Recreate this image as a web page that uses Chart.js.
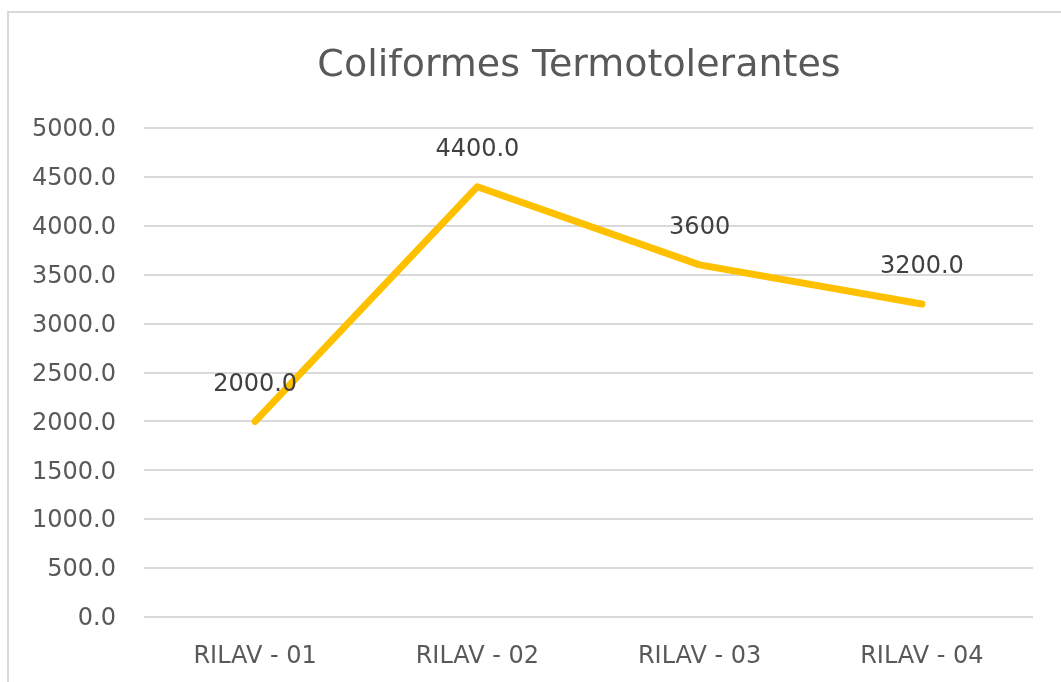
<!DOCTYPE html>
<html>
<head>
<meta charset="utf-8">
<script src="https://cdn.jsdelivr.net/npm/chart.js@4"></script>
<style>
  html, body { margin: 0; padding: 0; background: #fff; overflow: hidden; }
  #wrap { position: relative; width: 1061px; height: 682px; }
  #frame { position: absolute; left: 7px; top: 11px; width: 1100px; height: 700px; border: 2px solid #d9d9d9; box-sizing: border-box; }
  canvas { position: absolute; left: 0; top: 0; }
</style>
</head>
<body>
<div id="wrap">
  <div id="frame"></div>
  <canvas id="c" width="1061" height="682"></canvas>
</div>
<script>
const chartTitle = "Coliformes Termotolerantes";
const categories = ["RILAV - 01", "RILAV - 02", "RILAV - 03", "RILAV - 04"];
const values = [2000, 4400, 3600, 3200];
const valueLabels = ["2000.0", "4400.0", "3600", "3200.0"];
const yMin = 0, yMax = 5000, yStep = 500;

const FONT = "'DejaVu Sans', 'Open Sans', sans-serif";

const labelPlugin = {
  id: 'valueLabels',
  afterDatasetsDraw(chart) {
    const ctx = chart.ctx;
    const meta = chart.getDatasetMeta(0);
    ctx.save();
    ctx.font = "24px " + FONT;
    ctx.fillStyle = "#404040";
    ctx.textAlign = "center";
    ctx.textBaseline = "middle";
    meta.data.forEach((pt, i) => {
      ctx.fillText(valueLabels[i], pt.x, pt.y - 37);
    });
    ctx.restore();
  }
};

const titlePlugin = {
  id: 'customTitle',
  afterDraw(chart) {
    const ctx = chart.ctx;
    ctx.save();
    ctx.font = "38px " + FONT;
    ctx.fillStyle = "#595959";
    ctx.textAlign = "center";
    ctx.textBaseline = "middle";
    ctx.fillText(chartTitle, 579, 66);
    ctx.restore();
  }
};

new Chart(document.getElementById('c'), {
  type: 'line',
  data: {
    labels: categories,
    datasets: [{
      data: values,
      borderColor: '#FFC000',
      backgroundColor: '#FFC000',
      borderWidth: 7,
      pointRadius: 0,
      pointHoverRadius: 0,
      tension: 0,
      borderCapStyle: 'round',
      borderJoinStyle: 'round',
      fill: false
    }]
  },
  options: {
    responsive: false,
    animation: false,
    events: [],
    layout: { padding: { left: 0, right: 28, top: 128, bottom: 0 } },
    plugins: {
      legend: { display: false },
      title: { display: false },
      tooltip: { enabled: false }
    },
    scales: {
      x: {
        offset: true,
        grid: { display: false, drawTicks: false },
        border: { display: false },
        ticks: { color: '#595959', font: { family: FONT, size: 24 }, padding: 25, maxRotation: 0 },
        afterFit(scale) { scale.height = 65; }
      },
      y: {
        min: yMin, max: yMax,
        grid: { color: '#d9d9d9', lineWidth: 2, drawTicks: false },
        border: { display: false },
        ticks: {
          stepSize: yStep,
          color: '#595959',
          font: { family: FONT, size: 24 },
          padding: 28,
          labelOffset: 2,
          callback: v => Number(v).toFixed(1)
        },
        afterFit(scale) { scale.width = 144; }
      }
    }
  },
  plugins: [labelPlugin, titlePlugin]
});
</script>
</body>
</html>
